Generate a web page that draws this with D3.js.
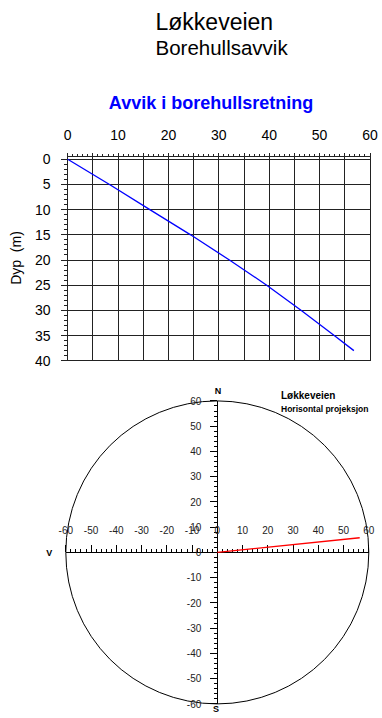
<!DOCTYPE html>
<html>
<head>
<meta charset="utf-8">
<script src="https://cdn.jsdelivr.net/npm/d3@7"></script>
<style>
  html, body { margin: 0; padding: 0; background: #fff; }
  svg { display: block; }
  text { font-family: "Liberation Sans", Arial, Helvetica, sans-serif; }
</style>
</head>
<body>
<svg id="chart" width="382" height="718"></svg>
<script>
// ---- Data ----
const titleMain = "Løkkeveien";
const titleSub = "Borehullsavvik";
const profileTitle = "Avvik i borehullsretning";
const depthLabel = "Dyp  (m)";
const planTitle = "Løkkeveien";
const planSub = "Horisontal projeksjon";

// Profile: depth (m) vs deviation along borehole direction (m)
const depth     = [0, 5,   10,   15,   20,   25,   30,   35,   38];
const deviation = [0, 8.3, 16.3, 24.4, 32.1, 39.5, 46.3, 52.9, 56.8];

// Plan view: east (+) / north (+) coordinates (m)
const planEast  = [0, 56.4];
const planNorth = [0, 5.8];

const devTicks   = [0, 10, 20, 30, 40, 50, 60];
const depthTicks = [0, 5, 10, 15, 20, 25, 30, 35, 40];
const compassTicks = [-60, -50, -40, -30, -20, -10, 0, 10, 20, 30, 40, 50, 60];
const compassLetters = ["N", "S", "V"];

// ---- Drawing ----
const svg = d3.select("#chart");

// Titles
svg.append("text").attr("x", 155.5).attr("y", 29.5)
  .attr("font-size", 23).text(titleMain);
svg.append("text").attr("x", 155.5).attr("y", 55)
  .attr("font-size", 20.5).text(titleSub);
svg.append("text").attr("x", 211).attr("y", 108.5)
  .attr("text-anchor", "middle").attr("font-size", 18).attr("font-weight", "bold")
  .attr("fill", "#0000ff").text(profileTitle);

// ---- Profile chart ----
const x = d3.scaleLinear().domain([0, 60]).range([67.7, 370]);
const y = d3.scaleLinear().domain([0, 40]).range([159.3, 360.7]);

const grid = svg.append("g").attr("stroke", "#222").attr("stroke-width", 1).attr("shape-rendering", "crispEdges");
d3.range(0, 61, 5).forEach(v => {
  grid.append("line").attr("x1", x(v)).attr("x2", x(v)).attr("y1", y(0)).attr("y2", y(40));
});
d3.range(0, 41, 5).forEach(v => {
  grid.append("line").attr("x1", x(0)).attr("x2", x(60)).attr("y1", y(v)).attr("y2", y(v));
});

// top axis: line slightly above, ticks upward
const topAxisY = y(0) - 2.5;
const ta = svg.append("g").attr("stroke", "#222").attr("shape-rendering", "crispEdges");
ta.append("line").attr("x1", x(0)).attr("x2", x(60)).attr("y1", topAxisY).attr("y2", topAxisY);
d3.range(0, 61, 1).forEach(v => {
  const major = v % 5 === 0;
  ta.append("line").attr("x1", x(v)).attr("x2", x(v))
    .attr("y1", major ? y(0) : topAxisY).attr("y2", topAxisY - (major ? 3.5 : 2.5));
});
// left axis ticks
const la = svg.append("g").attr("stroke", "#222").attr("shape-rendering", "crispEdges");
d3.range(0, 41, 1).forEach(v => {
  const major = v % 5 === 0;
  la.append("line").attr("y1", y(v)).attr("y2", y(v))
    .attr("x1", x(0)).attr("x2", x(0) - (major ? 7 : 3.5));
});

// tick labels
svg.append("g").selectAll("text").data(devTicks).join("text")
  .attr("x", d => x(d)).attr("y", 140).attr("text-anchor", "middle")
  .attr("font-size", 14).text(d => d);
svg.append("g").selectAll("text").data(depthTicks).join("text")
  .attr("x", 50.5).attr("y", d => y(d) + 5).attr("text-anchor", "end")
  .attr("font-size", 14).text(d => d);

svg.append("text").attr("transform", "translate(21,258) rotate(-90)")
  .attr("text-anchor", "middle").attr("font-size", 14).attr("xml:space", "preserve")
  .style("white-space", "pre").text(depthLabel);

// profile line
const profileLine = d3.line().x((d, i) => x(deviation[i])).y(d => y(d));
svg.append("path").datum(depth).attr("d", profileLine)
  .attr("fill", "none").attr("stroke", "#0000ff").attr("stroke-width", 1.3);

// ---- Plan (compass) chart ----
const cx = d3.scaleLinear().domain([-60, 60]).range([65.8, 368.8]);
const cy = d3.scaleLinear().domain([-60, 60]).range([703.9, 400.9]);

svg.append("circle").attr("cx", cx(0)).attr("cy", cy(0)).attr("r", cx(60) - cx(0))
  .attr("fill", "none").attr("stroke", "#000").attr("stroke-width", 1);

const ax = svg.append("g").attr("stroke", "#000").attr("shape-rendering", "crispEdges");
ax.append("line").attr("x1", cx(-60)).attr("x2", cx(60)).attr("y1", cy(0)).attr("y2", cy(0));
ax.append("line").attr("x1", cx(0)).attr("x2", cx(0)).attr("y1", cy(60)).attr("y2", cy(-60));
d3.range(-60, 61, 2).forEach(v => {
  const major = v % 10 === 0;
  ax.append("line").attr("x1", cx(v)).attr("x2", cx(v))
    .attr("y1", cy(0)).attr("y2", cy(0) - (major ? 7 : 3.5));
  ax.append("line").attr("y1", cy(v)).attr("y2", cy(v))
    .attr("x1", cx(0)).attr("x2", cx(0) - (major ? 7 : 3.5));
});

svg.append("g").selectAll("text").data(compassTicks).join("text")
  .attr("x", d => cx(d)).attr("y", cy(0) - 18).attr("text-anchor", "middle")
  .attr("font-size", 10).attr("fill", "#222").text(d => d);
svg.append("g").selectAll("text").data(compassTicks).join("text")
  .attr("x", cx(0) - 16).attr("y", d => cy(d) + 3.6).attr("text-anchor", "end")
  .attr("font-size", 10).attr("fill", "#222").text(d => d);

// compass letters
const letterPos = {
  N: [cx(0) + 0.8, cy(60) - 6.5],
  S: [cx(0) - 1.2, cy(-60) + 8],
  V: [cx(-60) - 16.5, cy(0) + 3.8]
};
svg.append("g").selectAll("text").data(compassLetters).join("text")
  .attr("x", d => letterPos[d][0]).attr("y", d => letterPos[d][1])
  .attr("text-anchor", "middle").attr("font-size", 9).attr("font-weight", "bold")
  .text(d => d);

svg.append("text").attr("x", 281).attr("y", 399).attr("font-size", 10)
  .attr("font-weight", "bold").text(planTitle);
svg.append("text").attr("x", 281).attr("y", 411.5).attr("font-size", 8.5)
  .attr("font-weight", "bold").text(planSub);

// plan line
const planLine = d3.line().x(d => cx(d)).y((d, i) => cy(planNorth[i]));
svg.append("path").datum(planEast).attr("d", planLine)
  .attr("fill", "none").attr("stroke", "#ff0000").attr("stroke-width", 1.3);
</script>
</body>
</html>
